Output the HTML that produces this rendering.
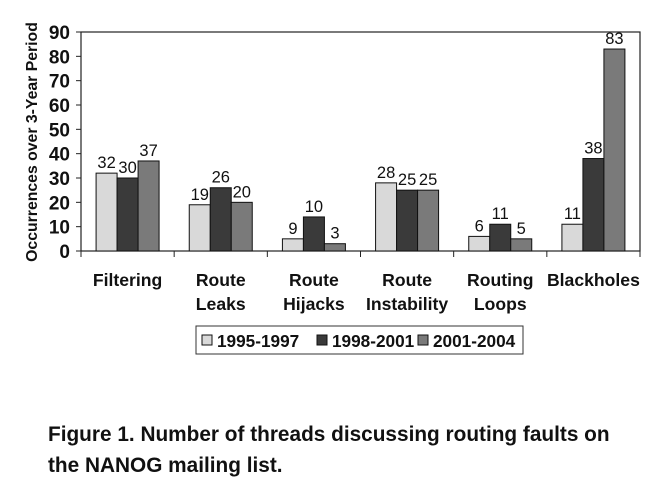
<!DOCTYPE html>
<html><head><meta charset="utf-8"><style>
body{margin:0;background:#fff;width:652px;height:494px;overflow:hidden;font-family:"Liberation Sans",Arial,sans-serif}
</style></head><body>
<svg width="652" height="494" id="c" xmlns="http://www.w3.org/2000/svg"></svg>
<div style="position:absolute;left:48px;top:419px;font-weight:bold;font-size:20.8px;line-height:31px;color:#111;white-space:nowrap">Figure 1. Number of threads discussing routing faults on<br>the NANOG mailing list.</div>
<script>
const categories=[["Filtering"],["Route","Leaks"],["Route","Hijacks"],["Route","Instability"],["Routing","Loops"],["Blackholes"]];
const seriesNames=["1995-1997","1998-2001","2001-2004"];
const s1=[32,19,5,28,6,11];
const s2=[30,26,14,25,11,38];
const s3=[37,20,3,25,5,83];
const l1=["32","19","9","28","6","11"];
const l2=["30","26","10","25","11","38"];
const l3=["37","20","3","25","5","83"];
const yTicks=[0,10,20,30,40,50,60,70,80,90];
const colors=["#d9d9d9","#3a3a3a","#7a7a7a"];
const svg=document.getElementById('c');const NS="http://www.w3.org/2000/svg";
const L=81,R=640,T=32,B=251,yMax=90;
const y=v=>B-(B-T)*v/yMax;
const gw=(R-L)/categories.length;
const gx=i=>L+gw*i;
function mk(t,a,txt){const e=document.createElementNS(NS,t);for(const k in a)e.setAttribute(k,a[k]);if(txt!=null)e.textContent=txt;svg.appendChild(e);return e;}
let e=mk('rect',{x:L,y:T,width:R-L,height:B-T,fill:'none',stroke:'#222','stroke-width':1.2});

yTicks.forEach(v=>{mk('line',{x1:L-5,x2:L,y1:y(v),y2:y(v),stroke:'#222'});
e=mk('text',{x:L-11,y:y(v)+7,'text-anchor':'end','font-size':19,'font-weight':'bold',fill:'#111'},v);
});
e=mk('text',{transform:'translate(37,142) rotate(-90)','text-anchor':'middle','font-size':15.8,'font-weight':'bold',fill:'#111'},'Occurrences over 3-Year Period');

for(let i=0;i<=categories.length;i++)mk('line',{x1:gx(i),x2:gx(i),y1:B,y2:B+6,stroke:'#222'});
const series=[s1,s2,s3],labels=[l1,l2,l3],bw=21;
categories.forEach((c,i)=>{const cx=gx(i)+gw/2;
series.forEach((s,j)=>{const x=cx-1.5*bw+j*bw;
e=mk('rect',{x:x,y:y(s[i]),width:bw,height:B-y(s[i]),fill:colors[j],stroke:'#111','stroke-width':1});

e=mk('text',{x:x+bw/2,y:y(s[i])-5,'text-anchor':'middle','font-size':16.5,fill:'#111'},labels[j][i]);
});
c.forEach((ln,k)=>{e=mk('text',{x:cx,y:286+k*24,'text-anchor':'middle','font-size':17.6,'font-weight':'bold',fill:'#111'},ln);
});});
e=mk('rect',{x:196,y:326,width:327,height:28,fill:'#fff',stroke:'#333'});

const lx=[202,317,418];
seriesNames.forEach((n,j)=>{mk('rect',{x:lx[j],y:335,width:10,height:10,fill:colors[j],stroke:'#111'});
e=mk('text',{x:lx[j]+15,y:347,'font-size':17.2,'font-weight':'bold',fill:'#111'},n);
});
</script>
</body></html>
